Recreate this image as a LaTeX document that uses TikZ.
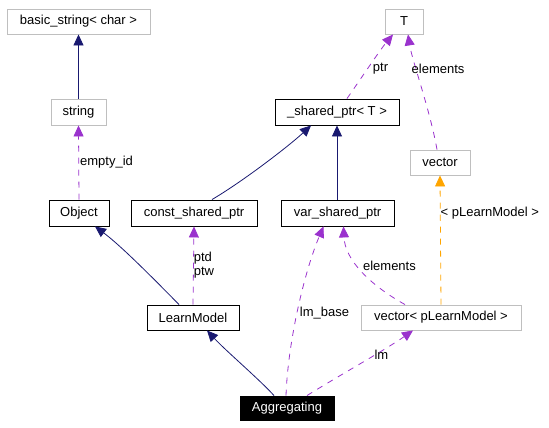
\documentclass[tikz,border=0pt]{standalone}
\usepackage{fontspec}
\setmainfont{Liberation Sans}
\usetikzlibrary{arrows.meta}
\definecolor{navy}{RGB}{25,25,112}
\definecolor{orch}{RGB}{154,50,205}
\definecolor{orng}{RGB}{255,165,0}
\definecolor{gborder}{RGB}{191,191,191}
\tikzset{
  box/.style={draw=black, line width=0.9pt, inner sep=0pt, font=\fontsize{13}{15}\selectfont},
  gbox/.style={box, draw=gborder},
  dbox/.style={box, fill=black, text=white},
  tip/.style={-{Triangle[length=11pt,width=10pt]}},
  inh/.style={tip, draw=navy, line width=0.8pt},
  use/.style={tip, draw=orch, line width=0.8pt, dash pattern=on 6pt off 6pt},
  tmpl/.style={tip, draw=orng, line width=0.8pt, dash pattern=on 6pt off 6pt},
  lbl/.style={font=\fontsize{13}{15}\selectfont, inner sep=1pt, align=left}
}
\begin{document}
\begin{tikzpicture}[x=1pt,y=-1pt]
\useasboundingbox (0,0) rectangle (549,428);
\node[gbox, minimum width=143pt, minimum height=25pt] (bs) at (78.5,21.5) {basic\_string< char >};
\node[gbox, minimum width=55pt, minimum height=26pt] (str) at (78.5,112) {string};
\node[box, minimum width=60pt, minimum height=26pt] (obj) at (79,213) {Object};
\node[box, minimum width=126pt, minimum height=26pt] (csp) at (194,213) {const\_shared\_ptr};
\node[box, minimum width=124pt, minimum height=26pt] (sp) at (337,112) {\_shared\_ptr< T >};
\node[gbox, minimum width=38pt, minimum height=25pt] (T) at (404,21.5) {T};
\node[gbox, minimum width=60pt, minimum height=25pt] (vec) at (440,162.5) {vector};
\node[box, minimum width=113pt, minimum height=26pt] (vsp) at (337.5,213) {var\_shared\_ptr};
\node[box, minimum width=92pt, minimum height=25pt] (lm) at (193,317.5) {LearnModel};
\node[gbox, minimum width=160pt, minimum height=25pt] (vpl) at (441,317.5) {vector< pLearnModel >};
\node[dbox, minimum width=94pt, minimum height=24pt] (agg) at (287,408) {Aggregating};

\draw[inh] (str.north) -- (bs.south);
\draw[use] (obj.north) -- (str.south) node[lbl, midway, anchor=west] {empty\_id};
\draw[inh] ([xshift=18pt]csp.north) .. controls (245,180) and (290,145) .. ([xshift=-26pt]sp.south);
\draw[inh] ([xshift=-0.5pt]vsp.north) -- (sp.south);
\draw[use] ([xshift=10pt]sp.north) .. controls (360,80) and (380,50) .. ([xshift=-11pt]T.south) node[lbl, pos=0.45, anchor=west, xshift=4pt] {ptr};
\draw[use] ([xshift=-3pt]vec.north) .. controls (430,110) and (412,60) .. ([xshift=4pt]T.south) node[lbl, pos=0.65, anchor=west, xshift=-6pt] {elements};
\draw[inh] ([xshift=-14pt]lm.north) .. controls (150,275) and (120,245) .. ([xshift=16pt]obj.south);
\draw[use] (lm.north) -- (csp.south) node[lbl, midway, anchor=west, inner sep=0pt, font=\fontsize{13}{14}\selectfont] {ptd\\ptw};
\draw[inh] ([xshift=-13pt]agg.north) .. controls (260,380) and (225,350) .. ([xshift=14pt]lm.south);
\draw[use] ([xshift=-1pt]agg.north) .. controls (288,340) and (305,270) .. ([xshift=-14pt]vsp.south) node[lbl, pos=0.45, anchor=west, xshift=2pt, yshift=2pt] {lm\_base};
\draw[use] ([xshift=-36pt]vpl.north) .. controls (370,285) and (345,260) .. ([xshift=6pt]vsp.south) node[lbl, pos=0.5, anchor=south west, xshift=0pt, yshift=-1pt] {elements};
\draw[use] ([xshift=20pt]agg.north) .. controls (340,375) and (385,350) .. ([xshift=-28pt]vpl.south) node[lbl, pos=0.6, anchor=north west, yshift=7pt] {lm};
\draw[tmpl] (vpl.north) -- (vec.south) node[lbl, pos=0.71, anchor=west, inner sep=0pt] {< pLearnModel >};
\end{tikzpicture}
\end{document}
